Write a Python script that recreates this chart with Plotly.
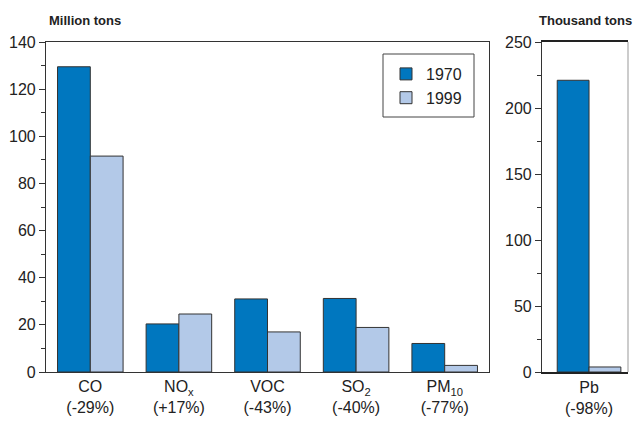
import plotly.graph_objects as go

categories = ["CO<br>(-29%)", "NO<sub>x</sub><br>(+17%)", "VOC<br>(-43%)",
              "SO<sub>2</sub><br>(-40%)", "PM<sub>10</sub><br>(-77%)"]
vals_1970 = [129.5, 20.4, 31.0, 31.2, 12.1]
vals_1999 = [91.6, 24.6, 17.0, 18.9, 2.8]

pb_category = ["Pb<br>(-98%)"]
pb_1970 = [221.0]
pb_1999 = [3.8]

c1970 = "#0077BF"
c1999 = "#B3C9E8"
line = dict(color="#333333", width=1)

fig = go.Figure()
fig.add_trace(go.Bar(x=categories, y=vals_1970, name="1970", marker=dict(color=c1970, line=line),
                     xaxis="x", yaxis="y"))
fig.add_trace(go.Bar(x=categories, y=vals_1999, name="1999", marker=dict(color=c1999, line=line),
                     xaxis="x", yaxis="y"))
fig.add_trace(go.Bar(x=pb_category, y=pb_1970, name="1970", marker=dict(color=c1970, line=line),
                     xaxis="x2", yaxis="y2", showlegend=False))
fig.add_trace(go.Bar(x=pb_category, y=pb_1999, name="1999", marker=dict(color=c1999, line=line),
                     xaxis="x2", yaxis="y2", showlegend=False))

W, H = 633, 422
ytop, ybot = 1 - 42 / H, 1 - 372 / H
tickfont = dict(family="Liberation Sans, Arial", size=16, color="#222222")

fig.update_layout(
    width=W, height=H,
    margin=dict(l=0, r=0, t=0, b=0, autoexpand=False),
    paper_bgcolor="white", plot_bgcolor="white",
    barmode="group", bargap=0.26, bargroupgap=0,
    font=dict(family="Liberation Sans, Arial", size=16, color="#222222"),
    xaxis=dict(domain=[46 / W, 489 / W], anchor="y", showline=True, linecolor="#333333",
               linewidth=1.2, mirror=True, ticks="", tickfont=tickfont, range=[-0.5, 4.5],
               automargin=False),
    yaxis=dict(domain=[ybot, ytop], anchor="x", range=[0, 140], dtick=20, showgrid=False,
               showline=True, linecolor="#333333", linewidth=1.2, mirror=True, ticks="outside",
               ticklen=6, tickcolor="#333333", tickfont=tickfont, zeroline=False, automargin=False,
               minor=dict(dtick=10, ticks="outside", ticklen=4, tickcolor="#333333", showgrid=False)),
    xaxis2=dict(domain=[542 / W, 628 / W], anchor="y2", showline=True, linecolor="#222222",
                linewidth=1.5, mirror=True, ticks="", tickfont=tickfont, range=[-0.547, 0.453],
                automargin=False),
    yaxis2=dict(domain=[ybot, ytop], anchor="x2", range=[0, 250], dtick=50, showgrid=False,
                showline=True, linecolor="#333333", linewidth=1.2, ticks="outside",
                ticklen=6, tickcolor="#333333", tickfont=tickfont, zeroline=False, automargin=False,
                minor=dict(dtick=25, ticks="outside", ticklen=4, tickcolor="#333333", showgrid=False)),
    legend=dict(x=386 / W, y=1 - 57 / H, xanchor="left", yanchor="top",
                borderwidth=0, bgcolor="rgba(0,0,0,0)",
                font=dict(size=16, color="#222222"), tracegroupgap=0,
                itemwidth=30),
    showlegend=True,
)

# legend frame
fig.add_shape(type="rect", xref="paper", yref="paper", x0=383 / W, x1=474 / W,
              y0=1 - 117 / H, y1=1 - 54 / H, line=dict(color="#444444", width=1),
              fillcolor="white", layer="below")

fig.add_annotation(text="<b>Million tons</b>", xref="paper", yref="paper", x=47 / W, y=1 - 20 / H,
                   xanchor="left", yanchor="middle", showarrow=False,
                   font=dict(size=13, color="#222222"))
fig.add_annotation(text="<b>Thousand tons</b>", xref="paper", yref="paper", x=537 / W, y=1 - 20 / H,
                   xanchor="left", yanchor="middle", showarrow=False,
                   font=dict(size=13, color="#222222"))
# light right border of the right panel
fig.add_shape(type="line", xref="paper", yref="paper", x0=628 / W, x1=628 / W, y0=ybot, y1=ytop,
              line=dict(color="#bbbbbb", width=1.5))

fig.write_html("out.html", config={"displayModeBar": False},
               post_script="document.body.style.margin='0';document.body.style.overflow='hidden';")
